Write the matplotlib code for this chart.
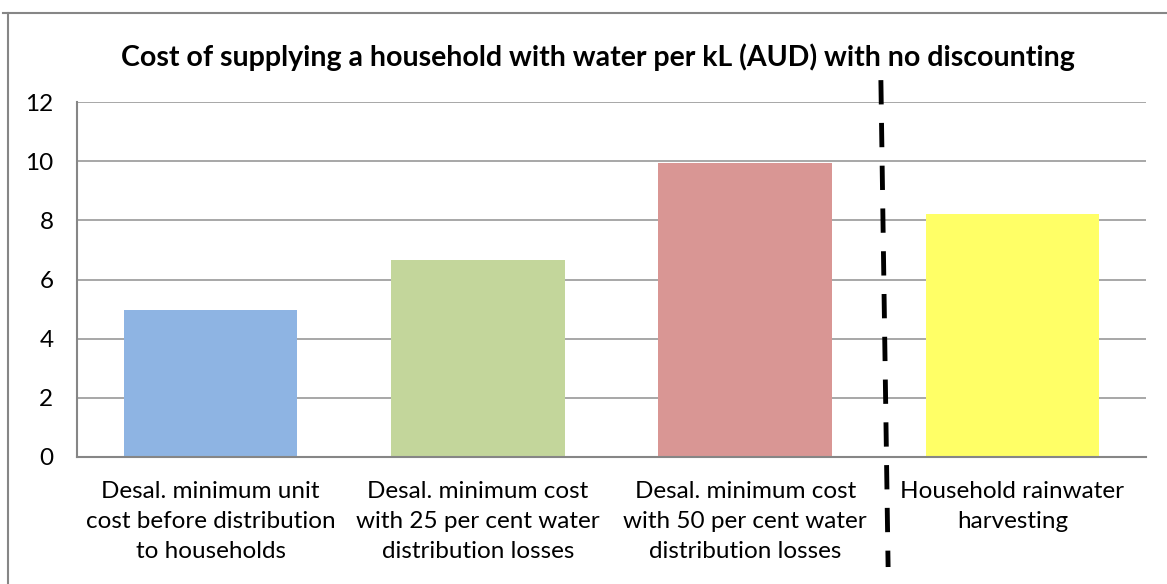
import matplotlib.pyplot as plt
from matplotlib.lines import Line2D

categories = [
    "Desal. minimum unit\ncost before distribution\nto households",
    "Desal. minimum cost\nwith 25 per cent water\ndistribution losses",
    "Desal. minimum cost\nwith 50 per cent water\ndistribution losses",
    "Household rainwater\nharvesting",
]
values = [4.98, 6.66, 9.94, 8.22]
colors = ["#8EB4E3", "#C3D69B", "#D99694", "#FFFF66"]
yticks = [0, 2, 4, 6, 8, 10, 12]

plt.rcParams['font.family'] = ['Lato', 'DejaVu Sans']

fig = plt.figure(figsize=(11.67, 5.84), dpi=100)
ax = fig.add_axes([0.066, 0.2175, 0.916, 0.6078])

x = range(len(categories))
ax.bar(x, values, width=0.65, color=colors, zorder=2)

ax.set_xlim(-0.5, len(categories) - 0.5)
ax.set_ylim(0, 12)
ax.set_yticks(yticks)
ax.set_xticks(list(x))
ax.set_xticklabels(categories, fontsize=17.5, linespacing=1.55)
ax.tick_params(axis='y', labelsize=17.5, length=0, pad=17)
ax.tick_params(axis='x', length=0, pad=17)
ax.grid(axis='y', color='#A0A0A0', linewidth=1.3, zorder=0)

for s in ['top', 'right']:
    ax.spines[s].set_visible(False)
for s in ['left', 'bottom']:
    ax.spines[s].set_color('#868686')
    ax.spines[s].set_linewidth(1.5)

# dashed divider between desal options and rainwater harvesting
ax.plot([2.508, 2.535], [12.74, -3.72], color='black', linewidth=3.5,
        linestyle=(0, (5, 3.8)), clip_on=False, zorder=5)

fig.text(598 / 1167, 1 - 57 / 584, "Cost of supplying a household with water per kL (AUD) with no discounting",
         ha='center', va='center', fontsize=20.5, fontweight='bold')

# chart area border
fig.add_artist(Line2D([3 / 1167, 1], [1 - 12.5 / 584] * 2, color='#868686', linewidth=1.5))
fig.add_artist(Line2D([8 / 1167] * 2, [0, 1 - 12.5 / 584], color='#868686', linewidth=1.5))

fig.savefig("out.png", dpi=100)
